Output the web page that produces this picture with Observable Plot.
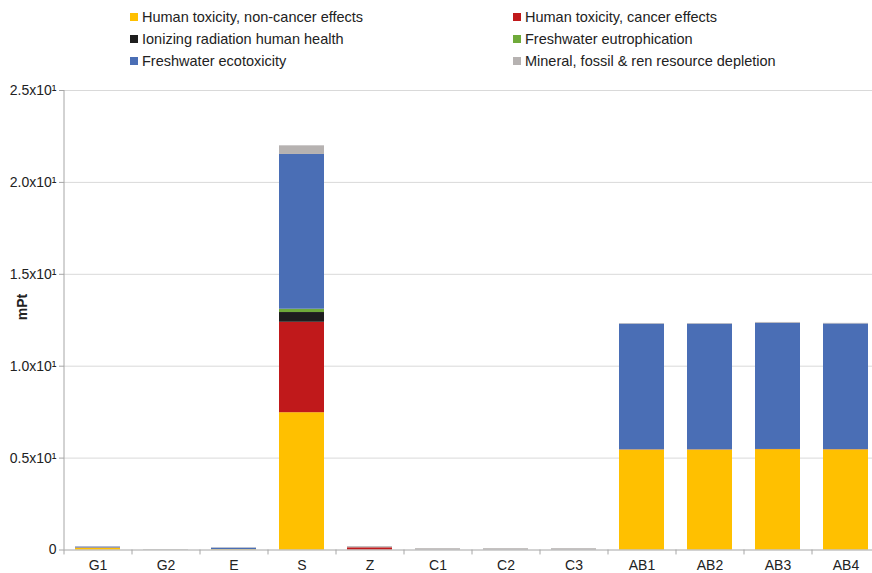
<!DOCTYPE html>
<html>
<head>
<meta charset="utf-8">
<script src="https://cdn.jsdelivr.net/npm/d3@7"></script>
<script src="https://cdn.jsdelivr.net/npm/@observablehq/plot@0.6"></script>
<style>
  html, body { margin: 0; padding: 0; background: #fff; }
  body { width: 872px; height: 573px; overflow: hidden; font-family: "Liberation Sans", Arial, sans-serif; }
  #legend { position: relative; height: 80px; width: 872px; font-size: 14.5px; color: #222; }
  .item { position: absolute; display: flex; align-items: center; white-space: nowrap; line-height: 16px; }
  .sw { width: 8px; height: 8px; margin-right: 4px; }
  #chart svg { display: block; }
</style>
</head>
<body>
<div id="legend"></div>
<div id="chart"></div>
<script>
// Product systems on the x axis
const categories = ["G1", "G2", "E", "S", "Z", "C1", "C2", "C3", "AB1", "AB2", "AB3", "AB4"];

// Impact categories, stacked bottom to top
const seriesNames = [
  "Human toxicity, non-cancer effects",
  "Human toxicity, cancer effects",
  "Ionizing radiation human health",
  "Freshwater eutrophication",
  "Freshwater ecotoxicity",
  "Mineral, fossil & ren resource depletion"
];
const seriesColors = ["#ffc000", "#c0191b", "#1e1e1e", "#6faa3a", "#4a6eb5", "#b6b2b1"];

// Scores in mPt per product system
const nonCancer = [0.10, 0.00, 0.02, 7.47, 0.00, 0.00, 0.00, 0.00, 5.44, 5.44, 5.46, 5.45];
const cancer    = [0.01, 0.00, 0.00, 4.92, 0.12, 0.00, 0.00, 0.00, 0.01, 0.01, 0.01, 0.01];
const ionizing  = [0.00, 0.00, 0.00, 0.53, 0.00, 0.00, 0.00, 0.00, 0.00, 0.00, 0.00, 0.00];
const eutroph   = [0.00, 0.00, 0.00, 0.18, 0.00, 0.00, 0.00, 0.00, 0.00, 0.00, 0.00, 0.00];
const ecotox    = [0.05, 0.00, 0.08, 8.42, 0.00, 0.00, 0.00, 0.00, 6.84, 6.84, 6.87, 6.84];
const mineral   = [0.01, 0.02, 0.02, 0.47, 0.06, 0.07, 0.07, 0.07, 0.03, 0.03, 0.04, 0.03];

const yTicks = [0, 5, 10, 15, 20, 25];
const yTickLabels = ["0", "0.5x10¹", "1.0x10¹", "1.5x10¹", "2.0x10¹", "2.5x10¹"];

const seriesValues = [nonCancer, cancer, ionizing, eutroph, ecotox, mineral];
const rows = [];
seriesNames.forEach((s, i) => {
  categories.forEach((c, j) => rows.push({cat: c, series: s, value: seriesValues[i][j]}));
});

// Legend: two columns, three rows
const legend = document.getElementById("legend");
seriesNames.forEach((s, i) => {
  const col = i % 2, row = Math.floor(i / 2);
  const el = document.createElement("div");
  el.className = "item";
  el.style.left = (col === 0 ? 130 : 513) + "px";
  el.style.top = (9 + row * 22) + "px";
  el.innerHTML = `<span class="sw" style="background:${seriesColors[i]}"></span><span>${s}</span>`;
  legend.appendChild(el);
});

const step = 68;
const halfStep = step / 2;
const fmt = d => yTickLabels[yTicks.indexOf(d)];

const chart = Plot.plot({
  width: 872,
  height: 493,
  marginTop: 10,
  marginBottom: 23.5,
  marginLeft: 64,
  marginRight: 0,
  style: {fontFamily: "Liberation Sans, Arial, sans-serif", fontSize: "14px", color: "#222", background: "#fff"},
  x: {domain: categories, range: [63.5, 63.5 + step * categories.length], paddingInner: 0.34, paddingOuter: 0.17, label: null},
  y: {domain: [0, 25], label: null},
  color: {domain: seriesNames, range: seriesColors},
  marks: [
    Plot.gridY(yTicks.slice(1), {stroke: "#d9d9d9", strokeOpacity: 1}),
    Plot.barY(rows, {x: "cat", y: "value", fill: "series"}),
    // axis lines
    Plot.ruleY([0], {stroke: "#a6a6a6"}),
    Plot.ruleX([categories[0]], {x: d => d, dx: -halfStep, y1: 0, y2: 25, stroke: "#a6a6a6"}),
    // category boundary ticks below the x axis
    Plot.ruleX(categories, {x: d => d, dx: -halfStep, y1: 0, y2: -0.27, stroke: "#a6a6a6"}),
    Plot.ruleX([categories[categories.length - 1]], {x: d => d, dx: halfStep, y1: 0, y2: -0.27, stroke: "#a6a6a6"}),
    Plot.axisY(yTicks, {tickSize: 5, tickPadding: 3, tickFormat: fmt, stroke: "#a6a6a6", label: null}),
    Plot.axisX({tickSize: 0, tickPadding: 10, label: null}),
    Plot.text(["mPt"], {frameAnchor: "left", rotate: -90, dx: -42, fontWeight: "bold", fontSize: 14})
  ]
});
document.getElementById("chart").appendChild(chart);
</script>
</body>
</html>
